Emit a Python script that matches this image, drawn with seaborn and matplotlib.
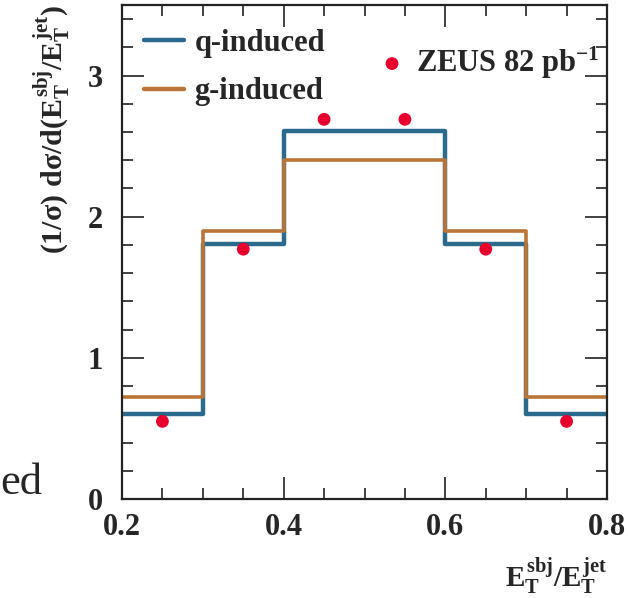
import matplotlib
matplotlib.use("Agg")
import matplotlib.pyplot as plt
import seaborn as sns
import numpy as np
import pandas as pd
from matplotlib.ticker import MultipleLocator

# ---- data ----
bin_edges = [0.2, 0.3, 0.4, 0.5, 0.6, 0.7, 0.8]
q_induced = [0.60, 1.81, 2.61, 2.61, 1.81, 0.60]
g_induced = [0.72, 1.90, 2.40, 2.40, 1.90, 0.72]
zeus_x = [0.25, 0.35, 0.45, 0.55, 0.65, 0.75]
zeus_y = [0.55, 1.77, 2.69, 2.69, 1.77, 0.55]
series_labels = ["q-induced", "g-induced"]
data_label = r"ZEUS 82 pb$^{-1}$"
x_ticks = [0.2, 0.4, 0.6, 0.8]
y_ticks = [0, 1, 2, 3]

sns.set_theme(style="ticks")
plt.rcParams["font.family"] = ["Liberation Serif", "DejaVu Serif"]
plt.rcParams["font.weight"] = "bold"
plt.rcParams["mathtext.fontset"] = "custom"
plt.rcParams["mathtext.rm"] = "Liberation Serif:bold"
plt.rcParams["mathtext.it"] = "Liberation Serif:bold"
plt.rcParams["mathtext.bf"] = "Liberation Serif:bold"
plt.rcParams["mathtext.sf"] = "Liberation Serif:bold"

BLUE = "#2b6a8c"
ORANGE = "#ba7538"
RED = "#e8002e"

fig = plt.figure(figsize=(6.28, 5.98), dpi=100)
ax = fig.add_axes([122 / 628, 1 - 499 / 598, (607 - 122) / 628, (499 - 5) / 598])

def step_frame(vals):
    return pd.DataFrame({"x": bin_edges, "y": list(vals) + [vals[-1]]})

sns.lineplot(data=step_frame(q_induced), x="x", y="y", ax=ax, color=BLUE,
             lw=3.2, drawstyle="steps-post", estimator=None, label=series_labels[0])
sns.lineplot(data=step_frame(g_induced), x="x", y="y", ax=ax, color=ORANGE,
             lw=2.6, drawstyle="steps-post", estimator=None, label=series_labels[1])
sns.scatterplot(x=zeus_x, y=zeus_y, ax=ax, color=RED, s=85, edgecolor="none",
                zorder=5, label=data_label)

ax.set_xlim(0.2, 0.8)
ax.set_ylim(0, 3.5)
ax.set_xticks(x_ticks)
ax.set_yticks(y_ticks)
ax.set_xticklabels([f"{v:.1f}" for v in x_ticks])
ax.set_yticklabels([str(v) for v in y_ticks])
ax.xaxis.set_minor_locator(MultipleLocator(0.05))
ax.yaxis.set_minor_locator(MultipleLocator(0.2))
ax.tick_params(which="both", direction="in", top=True, right=True, color="#333333")
ax.tick_params(which="major", length=16, width=1.3, labelsize=22, pad=10)
ax.tick_params(which="minor", length=8, width=1.3)
ax.tick_params(axis="y", which="major", pad=14)
for lab in ax.get_xticklabels() + ax.get_yticklabels():
    lab.set_fontweight("bold")
for sp in ax.spines.values():
    sp.set_visible(True)
    sp.set_linewidth(1.6)
    sp.set_color("#222222")
ax.set_xlabel("")
ax.set_ylabel("")

handles, labels = ax.get_legend_handles_labels()
if ax.get_legend():
    ax.get_legend().remove()
font = {"family": "Liberation Serif", "weight": "bold", "size": 22}
leg1 = ax.legend(handles[:2], labels[:2], loc="upper left", bbox_to_anchor=(0.02, 0.977),
                 frameon=False, prop=font, handlelength=1.3, handletextpad=0.35,
                 labelspacing=0.65, borderaxespad=0.0)
for h in leg1.legend_handles:
    h.set_linewidth(3.2)
ax.add_artist(leg1)
leg2 = ax.legend(handles[2:], labels[2:], loc="upper left", bbox_to_anchor=(0.5, 0.945),
                 frameon=False, prop=font, handlelength=1.0, handletextpad=0.3,
                 borderaxespad=0.0)

fig.text(52 / 628, 1 - 5 / 598,
         r"$(1/\sigma)\ d\sigma/d(E^{sbj}_{T}/E^{jet}_{T})$",
         rotation=90, ha="center", va="top", fontsize=21.5)
fig.text(607 / 628, 1 - 596 / 598, r"$E^{sbj}_{T}/E^{jet}_{T}$",
         ha="right", va="bottom", fontsize=21)
fig.text(0 / 628, 1 - 494 / 598, "ed", ha="left", va="baseline",
         fontsize=32, fontweight="normal", family="Liberation Serif")

fig.savefig("out.png", dpi=100)
